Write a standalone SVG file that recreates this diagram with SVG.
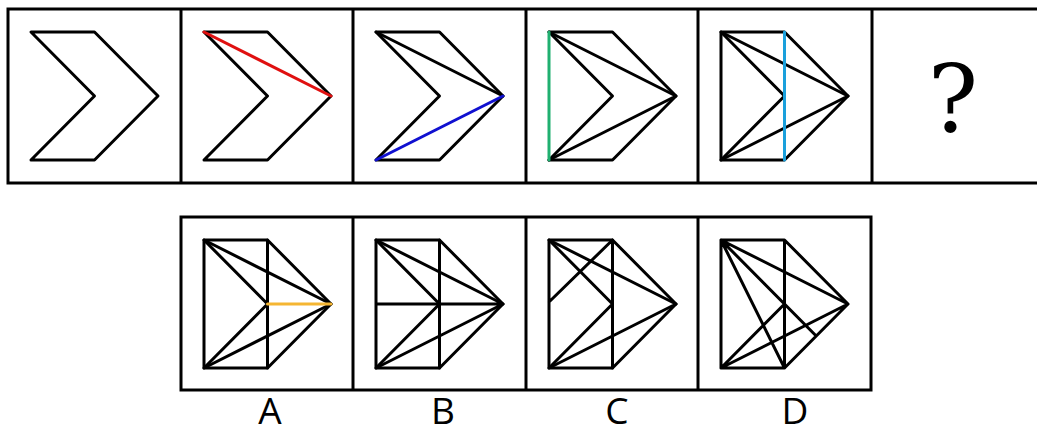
<svg xmlns="http://www.w3.org/2000/svg" xmlns:xlink="http://www.w3.org/1999/xlink" width="1037" height="434" viewBox="0 0 1037 434">
<style>
.frame{fill:none;stroke:#000;stroke-width:3}
.ln{fill:none;stroke:#000;stroke-width:3;stroke-linejoin:round;stroke-linecap:round}
.red{stroke:#e01010}
.blue{stroke:#1010d0}
.green{stroke:#20b070}
.cyan{stroke:#1aa0dc}
.yellow{stroke:#f5b632}
.lbl{font-family:"Open Sans","Noto Sans",sans-serif;font-size:37px;fill:#000;text-anchor:middle}
.q{font-family:"DejaVu Serif","Liberation Serif",serif;font-size:94px;fill:#000;text-anchor:middle}
</style>
<defs>
<path id="chev" class="ln" d="M23,23 L86.5,23 L150,87 L86.5,151 L23,151 L86.5,87 Z"/>
</defs>
<rect width="1037" height="434" fill="#fff"/>
<g id="frames">
<rect class="frame" x="8" y="9" width="1040" height="174"/>
<line class="frame" x1="181" y1="9" x2="181" y2="183"/>
<line class="frame" x1="353" y1="9" x2="353" y2="183"/>
<line class="frame" x1="526" y1="9" x2="526" y2="183"/>
<line class="frame" x1="698" y1="9" x2="698" y2="183"/>
<line class="frame" x1="872" y1="9" x2="872" y2="183"/>
<rect class="frame" x="181" y="217" width="690" height="173"/>
<line class="frame" x1="353" y1="217" x2="353" y2="390"/>
<line class="frame" x1="526" y1="217" x2="526" y2="390"/>
<line class="frame" x1="698" y1="217" x2="698" y2="390"/>
</g>
<g id="p1" transform="translate(8,9)">
<use xlink:href="#chev" href="#chev"/>
</g>
<g id="p2" transform="translate(181,9)">
<use xlink:href="#chev" href="#chev"/>
<path class="ln red" d="M23,23 L150,87"/>
</g>
<g id="p3" transform="translate(353,9)">
<use xlink:href="#chev" href="#chev"/>
<path class="ln" d="M23,23 L150,87"/>
<path class="ln blue" d="M23,151 L150,87"/>
</g>
<g id="p4" transform="translate(526,9)">
<use xlink:href="#chev" href="#chev"/>
<path class="ln" d="M23,23 L150,87 M23,151 L150,87"/>
<path class="ln green" d="M23,23 L23,151"/>
</g>
<g id="p5" transform="translate(698,9)">
<use xlink:href="#chev" href="#chev"/>
<path class="ln" d="M23,23 L23,151 M23,23 L150,87 M23,151 L150,87"/>
<path class="ln cyan" d="M86.5,23 L86.5,151"/>
</g>
<g id="p6">
<text class="q" x="953" y="132">?</text>
</g>
<g id="optA" transform="translate(181,217)">
<use xlink:href="#chev" href="#chev"/>
<path class="ln" d="M23,23 L23,151 M86.5,23 L86.5,151 M23,23 L150,87 M23,151 L150,87"/>
<path class="ln yellow" d="M86.5,87 L150,87"/>
</g>
<g id="optB" transform="translate(353,217)">
<use xlink:href="#chev" href="#chev"/>
<path class="ln" d="M23,23 L23,151 M86.5,23 L86.5,151 M23,23 L150,87 M23,151 L150,87 M23,87 L150,87"/>
</g>
<g id="optC" transform="translate(526,217)">
<use xlink:href="#chev" href="#chev"/>
<path class="ln" d="M23,23 L23,151 M86.5,23 L86.5,151 M23,23 L150,87 M23,151 L150,87 M86.5,23 L23,85"/>
</g>
<g id="optD" transform="translate(698,217)">
<path class="ln" d="M23,23 L86.5,23 L150,87 L86.5,151 L23,151 Z M86.5,23 L86.5,151 M23,23 L150,87 M23,151 L150,87 M23,23 L86.5,151 M23,23 L118.25,119 M23,151 L86.5,87"/>
</g>
<g id="labels">
<text class="lbl" x="270" y="424">A</text>
<text class="lbl" x="443" y="424">B</text>
<text class="lbl" x="617" y="424">C</text>
<text class="lbl" x="795" y="424">D</text>
</g>
</svg>
